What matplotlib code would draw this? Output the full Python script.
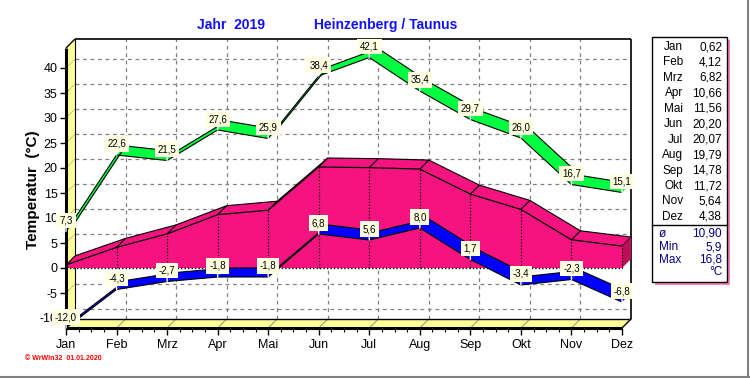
import matplotlib
matplotlib.use('Agg')
import matplotlib.pyplot as plt
from matplotlib.patches import Polygon, Rectangle
from matplotlib.lines import Line2D

plt.rcParams['font.family'] = ['Liberation Sans', 'DejaVu Sans']

# data
months = ['Jan', 'Feb', 'Mrz', 'Apr', 'Mai', 'Jun', 'Jul', 'Aug', 'Sep', 'Okt', 'Nov', 'Dez']
t_max = [7.3, 22.6, 21.5, 27.6, 25.9, 38.4, 42.1, 35.4, 29.7, 26.0, 16.7, 15.1]
t_min = [-12.0, -4.3, -2.7, -1.8, -1.8, 6.8, 5.6, 8.0, 1.7, -3.4, -2.3, -6.8]
t_mean = [0.62, 4.12, 6.82, 10.66, 11.56, 20.20, 20.07, 19.79, 14.78, 11.72, 5.64, 4.38]
stat_labels = ['ø', 'Min', 'Max']
stat_values = ['10,90', '5,9', '16,8']
y_ticks = [-10, -5, 0, 5, 10, 15, 20, 25, 30, 35, 40]

W, H = 750, 378
YLO, YHI = -12, 44
DX, DY = 9, 9  # depth offset in pixels

fig = plt.figure(figsize=(W / 100, H / 100), dpi=100)
fig.patch.set_facecolor('white')
ax = fig.add_axes([66 / W, 50 / H, 556 / W, 280 / H])
ax.set_xlim(0, 11)
ax.set_ylim(YLO, YHI)
ax.set_facecolor('none')
for s in ax.spines.values():
    s.set_visible(False)

# depth in data units
dxd = DX * 11 / 556
dyd = DY * (YHI - YLO) / 280
x = list(range(12))


def px(xp, yp):
    return (xp / W, 1 - yp / H)


def back(pts):
    return [(a + dxd, b + dyd) for a, b in pts]


def poly(pts, **kw):
    p = Polygon(pts, closed=True, clip_on=False, **kw)
    ax.add_patch(p)
    return p


def line(xs, ys, **kw):
    ax.plot(xs, ys, clip_on=False, solid_capstyle='butt', **kw)


# walls
yellow = '#ffff99'
poly([(0, YLO), (11, YLO), (11 + dxd, YLO + dyd), (dxd, YLO + dyd)], fc=yellow, ec='none', zorder=1)
poly([(0, YLO), (0, YHI), (dxd, YHI + dyd), (dxd, YLO + dyd)], fc=yellow, ec='none', zorder=1)

# back wall grid
for yt in y_ticks:
    line([dxd, 11 + dxd], [yt + dyd, yt + dyd], color='#808080', lw=0.9, ls=(0, (3, 3)), zorder=1.2)
for i in range(1, 11):
    line([i + dxd, i + dxd], [YLO + dyd, YHI + dyd], color='#808080', lw=0.9, ls=(0, (3, 3)), zorder=1.2)
    line([i, i + dxd], [YLO, YLO + dyd], color='#a0a080', lw=0.8, zorder=1.2)
for yt in y_ticks:
    line([0, dxd], [yt, yt + dyd], color='#c0c080', lw=0.6, zorder=1.2)

# frame lines
line([dxd, 11 + dxd], [YHI + dyd, YHI + dyd], color='black', lw=1.2, zorder=1.3)
line([11 + dxd, 11 + dxd], [YLO + dyd, YHI + dyd], color='black', lw=1.2, zorder=1.3)
line([dxd, 11 + dxd], [YLO + dyd, YLO + dyd], color='black', lw=1.0, zorder=1.3)
line([dxd, dxd], [YLO + dyd, YHI + dyd], color='black', lw=0.8, zorder=1.3)
line([0, dxd], [YHI, YHI + dyd], color='black', lw=1.0, zorder=1.3)
line([11, 11 + dxd], [YLO, YLO + dyd], color='black', lw=1.0, zorder=1.3)
line([0, 0], [YLO, YHI], color='black', lw=2.2, zorder=9)
line([0, 11], [YLO, YLO], color='black', lw=2.2, zorder=9)

# mean: 3D area
pink = '#f5147f'
front_top = list(zip(x, t_mean))
poly(front_top + back(front_top)[::-1], fc=pink, ec='none', zorder=2)
bx, by = zip(*back(front_top))
line(bx, by, color='black', lw=0.8, zorder=2.1)
for i in range(12):
    line([i, i + dxd], [t_mean[i], t_mean[i] + dyd], color='black', lw=0.8, zorder=2.1)
poly(front_top + [(11, 0), (0, 0)], fc=pink, ec='none', zorder=3)
poly([(11, 0), (11, t_mean[11]), (11 + dxd, t_mean[11] + dyd), (11 + dxd, dyd)],
     fc='#b80f55', ec='none', zorder=3)
line(x, t_mean, color='black', lw=0.9, zorder=3.2)
for i in range(1, 12):
    line([i, i], [0, t_mean[i]], color='black', lw=0.9, ls=(0, (1, 1.5)), zorder=3.2)
line([0, 11], [0, 0], color='black', lw=1.0, ls=(0, (1, 1.5)), zorder=3.2)


def ribbon(vals, color, z):
    for i in range(11):
        f = [(i, vals[i]), (i + 1, vals[i + 1])]
        poly(f + back(f)[::-1], fc=color, ec='none', zorder=z)
    line(x, vals, color='black', lw=0.8, zorder=z + 0.1)
    bx, by = zip(*back(list(zip(x, vals))))
    line(bx, by, color='black', lw=0.8, zorder=z + 0.1)


ribbon(t_min, '#0000ff', 5)
ribbon(t_max, '#00ff40', 5.5)


def labels(vals):
    for i, v in enumerate(vals):
        ax.annotate(f'{v:.1f}'.replace('.', ','), (i, v), xytext=(0, 11),
                    textcoords='offset pixels', ha='center', va='center', fontsize=7,
                    annotation_clip=False, zorder=12,
                    bbox=dict(boxstyle='square,pad=0.3', fc='#ffffe1', ec='none'))
        ax.annotate('', (i, v), xytext=(0, 5), textcoords='offset pixels',
                    arrowprops=dict(arrowstyle='-', color='white', lw=1, shrinkA=0, shrinkB=0),
                    annotation_clip=False, zorder=11)


labels(t_max)
labels(t_min)

# axes ticks
ax.set_yticks(y_ticks)
ax.set_yticklabels([str(v) for v in y_ticks])
ax.set_xticks(x)
ax.set_xticklabels(months)
ax.set_xticks([i / 4 for i in range(45)], minor=True)
ax.tick_params(axis='y', length=4, width=1, pad=2, labelsize=9, direction='out')
ax.tick_params(axis='x', which='major', length=5, width=1, pad=3, labelsize=9, direction='out')
ax.tick_params(axis='x', which='minor', length=3, width=0.8, direction='out')

# titles
blue = '#1010ff'
fig.text(*px(231, 25), 'Jahr  2019', color=blue, fontsize=10, fontweight='bold', ha='center', va='center')
fig.text(*px(386, 25), 'Heinzenberg / Taunus', color=blue, fontsize=10, fontweight='bold', ha='center', va='center')
fig.text(*px(33, 190), 'Temperatur  (°C)', rotation=90, fontsize=11, fontweight='bold', ha='center', va='center')
fig.text(*px(25, 358), '© WrWin32  01.01.2020', color='#ff0000', fontsize=5, fontweight='bold', ha='left', va='center')

# side table
bx0, by0, bx1, by1 = 652, 37, 727, 282
fig.add_artist(Rectangle(px(bx0 + 3, by1 + 3), (bx1 - bx0) / W, (by1 - by0) / H,
                         transform=fig.transFigure, fc='#ff80c0', ec='none', zorder=1))
fig.add_artist(Rectangle(px(bx0, by1), (bx1 - bx0) / W, (by1 - by0) / H,
                         transform=fig.transFigure, fc='white', ec='black', lw=1, zorder=2))
fig.add_artist(Line2D([bx0 / W, bx1 / W], [1 - 225 / H, 1 - 225 / H], transform=fig.transFigure,
                      color='black', lw=1, zorder=3))
for i, (m, v) in enumerate(zip(months, t_mean)):
    yy = 47 + i * 15.45
    fig.text(*px(683, yy), m, fontsize=8.5, ha='right', va='center', zorder=4)
    fig.text(*px(722, yy), f'{v:.2f}'.replace('.', ','), fontsize=8.5, ha='right', va='center', zorder=4)
navy = '#000080'
for i, (lab, val) in enumerate(zip(stat_labels, stat_values)):
    yy = 234 + i * 13
    fig.text(*px(659, yy), lab, fontsize=8.5, color=navy, ha='left', va='center', zorder=4)
    fig.text(*px(722, yy), val, fontsize=8.5, color=navy, ha='right', va='center', zorder=4)
fig.text(*px(722, 272), '°C', fontsize=8.5, color=navy, ha='right', va='center', zorder=4)

# outer border
fig.add_artist(Line2D([1 - 2 / W, 1 - 2 / W], [0, 1], transform=fig.transFigure, color='#808080', lw=1.5))
fig.add_artist(Line2D([0, 1], [1.5 / H, 1.5 / H], transform=fig.transFigure, color='#808080', lw=1.5))

fig.savefig('out.png', dpi=100)
